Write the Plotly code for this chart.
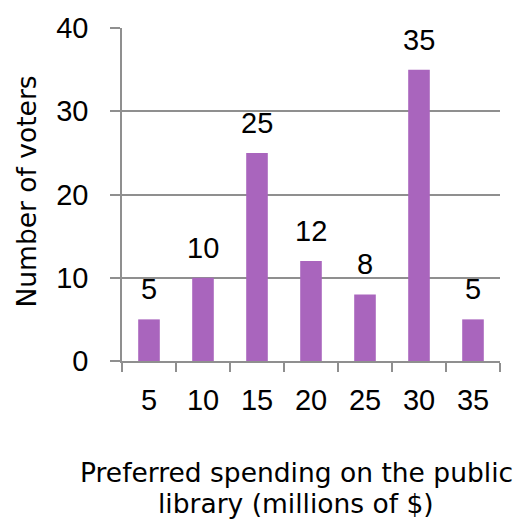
import plotly.graph_objects as go

categories = ["5", "10", "15", "20", "25", "30", "35"]
voters = [5, 10, 25, 12, 8, 35, 5]
y_ticks = [0, 10, 20, 30, 40]
x_title_lines = ["Preferred spending on the public", "library (millions of $)"]
y_title = "Number of voters"

num_font = "Liberation Sans"
txt_font = "DejaVu Sans"
gray = "#8f8f8f"

W, H = 527, 527
ML, MR, MT, MB = 122, 27, 25, 166
PW, PH = W - ML - MR, H - MT - MB


def px_x(p):
    return (p - ML) / PW


def px_y(p):
    return (H - MB - p) / PH


fig = go.Figure()
fig.add_trace(go.Bar(
    x=list(range(len(categories))), y=voters,
    marker=dict(color="#a965bd", line=dict(width=0)),
    width=0.4,
))
for i, v in enumerate(voters):
    fig.add_annotation(x=i, y=v, text=str(v), showarrow=False, yanchor="bottom",
                       yshift=12, font=dict(size=29, color="black", family=num_font))

for line, yc in zip(x_title_lines, [474, 505]):
    fig.add_annotation(xref="paper", yref="paper", x=px_x(296), y=px_y(yc),
                       text=line, showarrow=False, xanchor="center", yanchor="middle",
                       font=dict(size=26.5, family=txt_font, color="black"))
fig.add_annotation(xref="paper", yref="paper", x=px_x(27), y=px_y(190),
                   text=y_title, showarrow=False, textangle=-90,
                   xanchor="center", yanchor="middle",
                   font=dict(size=26.5, family=txt_font, color="black"))

fig.update_layout(
    width=W, height=H,
    margin=dict(l=ML, r=MR, t=MT, b=MB),
    plot_bgcolor="white", paper_bgcolor="white",
    showlegend=False,
    font=dict(family=num_font, size=29, color="black"),
    xaxis=dict(
        range=[-0.5, len(categories) - 0.5],
        tickvals=list(range(len(categories))), ticktext=categories,
        ticks="", showline=True, linecolor=gray, linewidth=1.5,
        showgrid=False, tickfont=dict(size=29, family=num_font),
        ticklabelstandoff=12, tickangle=0,
        minor=dict(tickvals=[i - 0.5 for i in range(len(categories) + 1)],
                   ticks="outside", ticklen=9, tickcolor=gray, tickwidth=1.5,
                   showgrid=False),
    ),
    yaxis=dict(
        range=[0, 40], tickvals=y_ticks, ticks="outside", ticklen=10,
        tickcolor=gray, tickwidth=1.5, showline=True, linecolor=gray, linewidth=1.5,
        showgrid=True, gridcolor=gray, gridwidth=1.5, zeroline=False,
        tickfont=dict(size=29, family=num_font), ticklabelstandoff=16,
    ),
)

fig.write_html("out.html")
